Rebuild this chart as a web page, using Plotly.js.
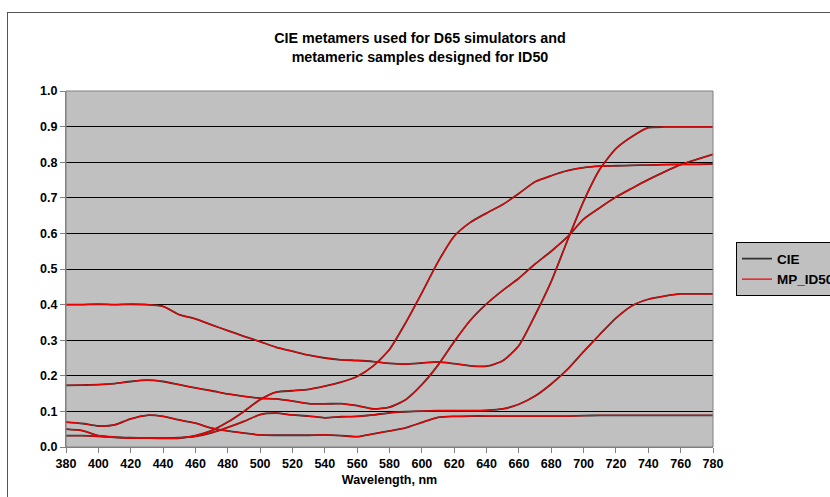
<!DOCTYPE html>
<html><head><meta charset="utf-8">
<script src="https://cdn.plot.ly/plotly-3.0.1.min.js"></script>
<style>
html,body{margin:0;padding:0;background:#fff;overflow:hidden;}
#frame{position:absolute;left:7px;top:12px;width:900px;height:600px;border:1px solid #555;box-sizing:border-box;}
#chart{position:absolute;left:0;top:0;width:830px;height:497px;}
</style></head>
<body><div id="frame"></div><div id="chart"></div>
<script>
const wavelength = [380,390,400,410,420,430,440,450,460,470,480,490,500,510,520,530,540,550,560,570,580,590,600,610,620,630,640,650,660,670,680,690,700,710,720,730,740,750,760,770,780];

const curveA = [0.400,0.400,0.401,0.400,0.401,0.400,0.395,0.372,0.360,0.343,0.327,0.311,0.296,0.280,0.269,0.258,0.250,0.245,0.243,0.240,0.235,0.233,0.236,0.239,0.234,0.228,0.227,0.242,0.285,0.370,0.465,0.580,0.690,0.780,0.838,0.872,0.897,0.899,0.899,0.899,0.899];
const curveB = [0.173,0.174,0.175,0.178,0.184,0.188,0.184,0.175,0.166,0.158,0.149,0.142,0.137,0.135,0.129,0.122,0.121,0.122,0.116,0.107,0.112,0.133,0.175,0.230,0.296,0.356,0.402,0.440,0.474,0.514,0.550,0.590,0.640,0.672,0.702,0.727,0.751,0.773,0.793,0.808,0.822];
const curveC = [0.050,0.046,0.032,0.028,0.026,0.025,0.024,0.025,0.032,0.046,0.070,0.100,0.133,0.154,0.158,0.162,0.171,0.182,0.198,0.228,0.274,0.349,0.433,0.520,0.592,0.631,0.657,0.681,0.712,0.745,0.762,0.776,0.785,0.789,0.790,0.791,0.792,0.793,0.794,0.794,0.795];
const curveD = [0.032,0.032,0.030,0.027,0.025,0.025,0.025,0.026,0.030,0.040,0.055,0.072,0.091,0.095,0.090,0.087,0.082,0.085,0.086,0.090,0.096,0.099,0.101,0.102,0.102,0.102,0.103,0.107,0.120,0.143,0.177,0.218,0.268,0.316,0.362,0.397,0.415,0.424,0.430,0.430,0.430];
const curveE = [0.070,0.066,0.059,0.062,0.079,0.089,0.086,0.076,0.067,0.053,0.045,0.039,0.034,0.033,0.033,0.033,0.034,0.032,0.029,0.037,0.045,0.054,0.069,0.083,0.086,0.087,0.087,0.087,0.087,0.087,0.087,0.087,0.088,0.089,0.089,0.089,0.089,0.089,0.089,0.089,0.089];

const cieCurves = [curveA, curveB, curveC, curveD, curveE];
const mpCurves = [curveA, curveB, curveC, curveD, curveE];
const seriesNames = ['CIE', 'MP_ID50'];
const yTicks = [0,0.1,0.2,0.3,0.4,0.5,0.6,0.7,0.8,0.9,1.0];

const traces = [];
cieCurves.forEach((c,i) => traces.push({
  x: wavelength, y: c, type:'scatter', mode:'lines', name: seriesNames[0],
  legendgroup:'cie', showlegend: i===0,
  line:{color:'#303030', width:1.8, shape:'spline', smoothing:0.6}
}));
mpCurves.forEach((c,i) => traces.push({
  x: wavelength, y: c, type:'scatter', mode:'lines', name: seriesNames[1],
  legendgroup:'mp', showlegend: i===0,
  line:{color:'#F00000', width:1.2, shape:'spline', smoothing:0.6}
}));

const fam = '"Liberation Sans", Arial, sans-serif';
const f = {family:fam, color:'#000', size:12.5, weight:'bold'};

const layout = {
  width:830, height:497,
  margin:{l:66, r:117, t:91, b:50, pad:0},
  paper_bgcolor:'rgba(0,0,0,0)',
  plot_bgcolor:'#C0C0C0',
  font: f,
  title:{text:'CIE metamers used for D65 simulators and<br>metameric samples designed for ID50',
    font:{family:fam, size:14.3, color:'#000', weight:'bold'},
    x:0.506, xref:'container', xanchor:'center', y:0.913, yref:'container', yanchor:'middle'},
  xaxis:{range:[380,780], tick0:380, dtick:20, ticks:'outside', ticklen:5, tickcolor:'#808080',
    showgrid:false, zeroline:false, showline:true, linecolor:'#808080', linewidth:1,
    tickfont:f, title:{text:'Wavelength, nm', font:f, standoff:5}},
  yaxis:{range:[0,1], tickvals:yTicks, tickformat:'.1f', ticks:'outside', ticklen:5, tickcolor:'#808080',
    showgrid:true, gridcolor:'#000', gridwidth:1, zeroline:false, showline:true, linecolor:'#808080', linewidth:1,
    tickfont:f},
  legend:{x:0.8867, xref:'container', xanchor:'left', y:0.458, yref:'container', yanchor:'middle',
    bgcolor:'#C0C0C0', bordercolor:'#000', borderwidth:1,
    font:{family:fam, color:'#000', size:13.5, weight:'bold'}, tracegroupgap:0, itemwidth:30},
  shapes:[{type:'rect', xref:'paper', yref:'paper', x0:0, x1:1, y0:0, y1:1, line:{color:'#808080', width:1}, layer:'above'}],
  showlegend:true
};

Plotly.newPlot('chart', traces, layout, {displayModeBar:false, staticPlot:true});
</script></body></html>
